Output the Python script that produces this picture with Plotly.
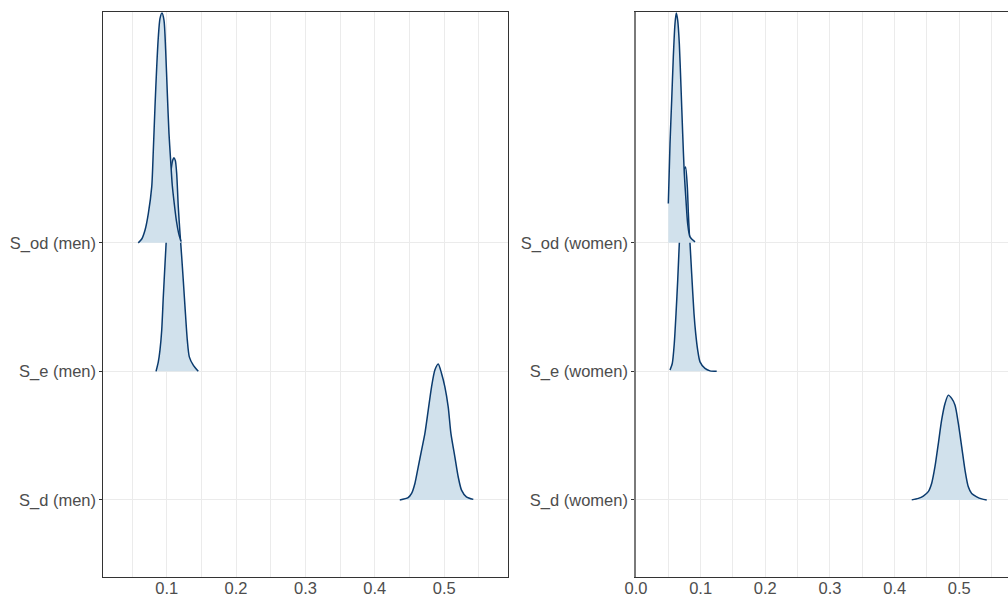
import plotly.graph_objects as go

# ---------------- data ----------------
params_men = ["S_d (men)", "S_e (men)", "S_od (men)"]
params_women = ["S_d (women)", "S_e (women)", "S_od (women)"]
x_ticks_men = [0.1, 0.2, 0.3, 0.4, 0.5]
x_ticks_women = [0.0, 0.1, 0.2, 0.3, 0.4, 0.5]

# scaled density heights (in row units) at x positions
men_sd_x = [0.436, 0.448, 0.453, 0.4578, 0.4626, 0.4674, 0.4722, 0.477, 0.4818, 0.4866,
            0.4914, 0.4962, 0.501, 0.5058, 0.5097, 0.5154, 0.5202, 0.525, 0.532, 0.542]
men_sd_h = [0.0, 0.017, 0.05, 0.128, 0.257, 0.387, 0.517, 0.698, 0.88, 1.01,
            1.057, 0.984, 0.88, 0.724, 0.517, 0.335, 0.18, 0.076, 0.024, 0.004]

men_se_x = [0.0846, 0.0879, 0.0903, 0.0928, 0.0951, 0.0976, 0.100, 0.103, 0.106, 0.1085,
            0.1105, 0.1125, 0.1144, 0.1167, 0.1192, 0.1215, 0.124, 0.1264, 0.1297, 0.1326,
            0.1383, 0.1455]
men_se_h = [0.0, 0.074, 0.165, 0.32, 0.58, 0.84, 1.08, 1.35, 1.55, 1.64,
            1.663, 1.64, 1.539, 1.279, 1.072, 0.90, 0.70, 0.50, 0.243, 0.113,
            0.048, 0.0]

men_sod_x = [0.059, 0.064, 0.0687, 0.0735, 0.0784, 0.0807, 0.0831, 0.0856, 0.0879, 0.0903,
             0.0932, 0.0961, 0.0985, 0.1009, 0.1033, 0.1057, 0.108, 0.111, 0.114, 0.117,
             0.1206]
men_sod_h = [0.0, 0.03, 0.098, 0.228, 0.435, 0.72, 1.057, 1.368, 1.60, 1.744,
             1.788, 1.731, 1.498, 1.161, 0.85, 0.64, 0.45, 0.30, 0.17, 0.08,
             0.01]

women_sd_x = [0.4264, 0.4366, 0.4443, 0.452, 0.4573, 0.4624, 0.4676, 0.4727, 0.4779, 0.483,
              0.4882, 0.4934, 0.4985, 0.5037, 0.5088, 0.5139, 0.5191, 0.5269, 0.5346, 0.5424]
women_sd_h = [0.0, 0.012, 0.03, 0.064, 0.13, 0.26, 0.44, 0.622, 0.75, 0.815,
              0.79, 0.737, 0.595, 0.413, 0.232, 0.102, 0.05, 0.024, 0.008, 0.0]

women_se_x = [0.0526, 0.0561, 0.0592, 0.0619, 0.0645, 0.0665, 0.069, 0.072, 0.0745, 0.0766,
              0.0794, 0.081, 0.0825, 0.0835, 0.0861, 0.0897, 0.0923, 0.0954, 0.099, 0.1067,
              0.1144, 0.1248]
women_se_h = [0.01, 0.061, 0.217, 0.45, 0.709, 0.942, 1.2, 1.45, 1.57, 1.59,
              1.435, 1.228, 1.072, 0.999, 0.761, 0.45, 0.295, 0.165, 0.074, 0.023,
              0.004, 0.0]

women_sod_x = [0.050, 0.0526, 0.0552, 0.0577, 0.0603, 0.0623, 0.0645, 0.067, 0.0696, 0.0722,
               0.0747, 0.0773, 0.0799, 0.0835, 0.0913]
women_sod_h = [0.306, 0.772, 1.109, 1.446, 1.705, 1.788, 1.731, 1.55, 1.212, 0.85,
               0.539, 0.331, 0.15, 0.046, 0.007]

# ---------------- styling ----------------
FILL = "#d1e1ec"
LINE = "#0b3b6e"
GRID = "#ebebeb"
TXT = "#4d4d4d"
FONT = "Liberation Sans, Arial, sans-serif"

W, H = 1008, 599

fig = go.Figure()


def add_ridges(series, xa, ya):
    for row, (xs, hs) in enumerate(series, start=1):
        # baseline for the fill
        fig.add_trace(go.Scatter(x=[xs[0], xs[-1]], y=[row, row], mode="lines",
                                 line=dict(width=0, color="rgba(0,0,0,0)"),
                                 xaxis=xa, yaxis=ya, hoverinfo="skip", showlegend=False))
        fig.add_trace(go.Scatter(x=xs, y=[row + h for h in hs], mode="lines",
                                 line=dict(color=LINE, width=1.5, shape="spline", smoothing=0.7),
                                 fill="tonexty", fillcolor=FILL,
                                 xaxis=xa, yaxis=ya, showlegend=False))


add_ridges([(men_sd_x, men_sd_h), (men_se_x, men_se_h), (men_sod_x, men_sod_h)], "x", "y")
add_ridges([(women_sd_x, women_sd_h), (women_se_x, women_se_h), (women_sod_x, women_sod_h)], "x2", "y2")

ydom = [22 / H, 587.5 / H]
xdom1 = [103.3 / W, 508 / W]
xdom2 = [636 / W, 1.0]

common_x = dict(showgrid=True, gridcolor=GRID, gridwidth=1, automargin=False,
                minor=dict(dtick=0.05, showgrid=True, gridcolor=GRID, gridwidth=0.8, ticks=""),
                zeroline=False, ticks="", ticklabelstandoff=-4,
                tickfont=dict(family=FONT, size=16.5, color=TXT), showline=True,
                linecolor="#333333", linewidth=1)
common_y = dict(showgrid=True, gridcolor=GRID, gridwidth=1, zeroline=False, automargin=False,
                ticks="outside", ticklen=3, tickcolor="#333333",
                tickfont=dict(family=FONT, size=16.5, color=TXT), showline=True,
                range=[0.4, 4.8], tickvals=[1, 2, 3])

fig.update_layout(
    template="none",
    width=W, height=H, margin=dict(l=0, r=0, t=0, b=0, pad=0),
    paper_bgcolor="white", plot_bgcolor="white",
    xaxis=dict(domain=xdom1, range=[0.0086, 0.592], tickvals=x_ticks_men,
               ticktext=[f"{v:.1f}" for v in x_ticks_men], mirror=True, anchor="y", **common_x),
    yaxis=dict(domain=ydom, anchor="x", ticktext=params_men, mirror=True,
               linecolor="#333333", linewidth=1, **common_y),
    xaxis2=dict(domain=xdom2, range=[0.0, 0.5753], tickvals=x_ticks_women,
                ticktext=[f"{v:.1f}" for v in x_ticks_women], mirror=True, anchor="y2", **common_x),
    yaxis2=dict(domain=ydom, anchor="x2", ticktext=params_women, mirror=False,
                linecolor="#7a7a7a", linewidth=1.5, **common_y),
)

fig.write_html("out.html")
